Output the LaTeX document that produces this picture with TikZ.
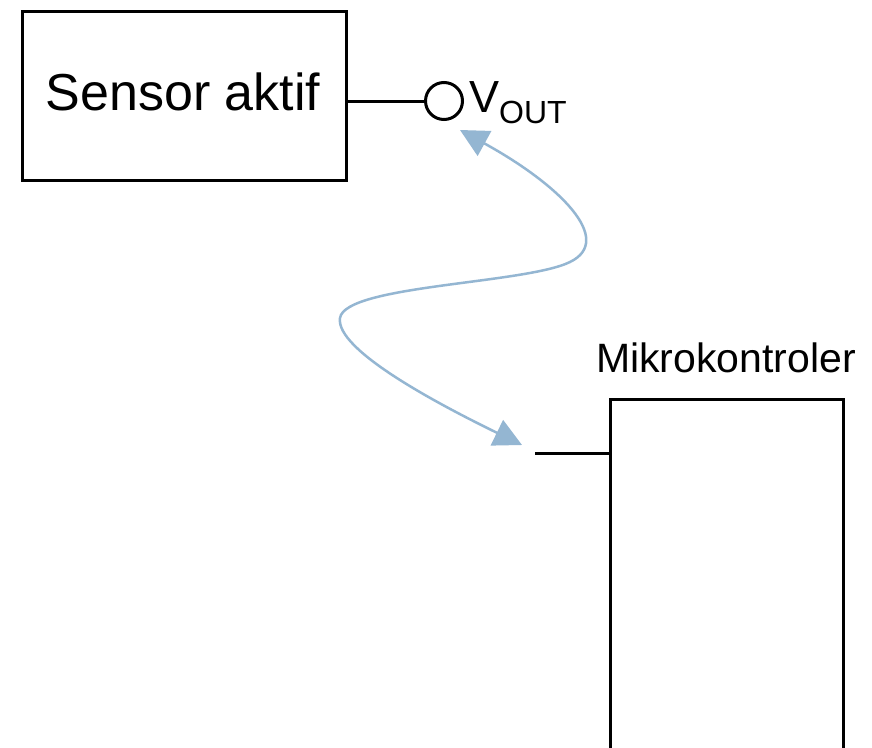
\documentclass[tikz,border=0pt]{standalone}
\usepackage{fontspec}
\setmainfont{Liberation Sans}
\usetikzlibrary{arrows.meta}
\definecolor{arrowblue}{RGB}{148,182,210}
\begin{document}
\begin{tikzpicture}[x=1pt,y=-1pt,
  blk/.style={draw=black,line width=3pt,rectangle,inner sep=0pt},
  wire/.style={draw=black,line width=3pt},
  link/.style={draw=arrowblue,line width=2.5pt,{Triangle[length=28pt,width=28pt]}-{Triangle[length=28pt,width=28pt]}}]
\useasboundingbox (0,0) rectangle (872,747);
\clip (0,0) rectangle (872,747);
\fill[white] (0,0) rectangle (872,747);
% Sensor box
\node[blk,minimum width=324pt,minimum height=169pt] (sensor) at (184,95.5) {};
\node[anchor=base] (sensortext) at (183,110) {\fontsize{52}{52}\selectfont Sensor aktif};
% Vout terminal
\node[draw=black,line width=3pt,circle,minimum size=37pt,inner sep=0pt] (vout) at (444,101) {};
\node[anchor=base west,inner sep=0pt] (voutlabel) at (469,112) {\fontsize{45}{45}\selectfont V\raisebox{-11pt}{\fontsize{32}{32}\selectfont OUT}};
\draw[wire] (vout.west) -- (vout.west -| sensor.east);
% Microcontroller
\node[blk,minimum width=233pt,minimum height=401pt] (mc) at (726.5,599.5) {};
\node[anchor=base] (mctext) at (726,372) {\fontsize{41}{41}\selectfont Mikrokontroler};
\coordinate (pin) at (535,453);
\draw[wire] (pin) -- (pin -| mc.west);
% Curved double arrow
\coordinate (a1) at (460,130);
\coordinate (a2) at (522,445);
\draw[link] (a1) .. controls (560,185) and (615,240) .. (570,262)
  .. controls (525,284) and (345,285) .. (340,318)
  .. controls (335,350) and (440,405) .. (a2);
\end{tikzpicture}
\end{document}
